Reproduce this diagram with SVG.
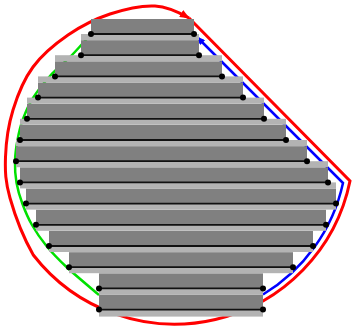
<svg xmlns="http://www.w3.org/2000/svg" width="352" height="330" viewBox="0 0 352 330">
<defs>
<style>
.dk{fill:#808080}
.lt{fill:#b3b3b3}
.ln{stroke:#111;stroke-width:1.8}
.dt{fill:#000}
.c{fill:none;stroke-linejoin:miter}
</style>
<marker id="ar" viewBox="0 0 10 8" refX="9" refY="4" markerWidth="10" markerHeight="8" markerUnits="userSpaceOnUse" orient="auto">
<path d="M0,0 L10,4 L0,8 z" fill="#ff0000"/>
</marker>
<marker id="ab" viewBox="0 0 10 8" refX="9" refY="4" markerWidth="9" markerHeight="7" markerUnits="userSpaceOnUse" orient="auto">
<path d="M0,0 L10,4 L0,8 z" fill="#0000ff"/>
</marker>
</defs>
<rect width="352" height="330" fill="#fff"/>
<g id="connectors">
<path class="c" stroke="#ff0000" stroke-width="3" marker-end="url(#ar)" d="M189,18 L350,181 A179 179 0 0 1 33.3,255 C23.8,238.3 14.6,214.3 10,198 C5.4,181.7 5,171.7 5.5,157 C6,142.3 8.4,125 13,110 C17.6,95 23.8,79.5 33,67 C42.2,54.5 55.2,43.8 68,35 C80.8,26.2 95.5,18.8 110,14 C124.5,9.2 141.8,5.3 155,6 C168.2,6.7 179,12.3 189,18"/>
<path class="c" stroke="#00e000" stroke-width="2.5" d="M91,34 C87.8,37.5 78.8,48 72,55 C65.2,62 56.5,68.8 50,76 C43.5,83.2 37.5,90.8 33,98 C28.5,105.2 25.6,112 23,119 C20.4,126 18.8,133 17.5,140 C16.2,147 15.2,153.9 15,161 C14.8,168.1 15.25,175.5 16.5,182.7 C17.75,189.9 19.9,197 22.5,204 C25.1,211 28,218 32,225 C36,232 40.75,239 46.5,246 C52.25,253 57.75,258.8 66.5,267 C75.25,275.2 93.6,290.3 99,295"/>
<path class="c" stroke="#0000ff" stroke-width="2.5" marker-end="url(#ab)" d="M263,294.5 A173 173 0 0 0 343,183 L197,37"/>
</g>
<g id="row1"><rect class="dk" x="91" y="19" width="103" height="15"/><rect class="lt" x="81" y="34" width="118" height="6"/><line class="ln" x1="91" y1="34" x2="194" y2="34"/><circle class="dt" cx="91" cy="34" r="3"/><circle class="dt" cx="194" cy="34" r="3"/></g>
<g id="row2"><rect class="dk" x="81" y="40.2" width="118" height="15"/><rect class="lt" x="55" y="55.2" width="167" height="6"/><line class="ln" x1="81" y1="55.2" x2="199" y2="55.2"/><circle class="dt" cx="81" cy="55.2" r="3"/><circle class="dt" cx="199" cy="55.2" r="3"/></g>
<g id="row3"><rect class="dk" x="55" y="61.4" width="167" height="15"/><rect class="lt" x="38" y="76.4" width="205" height="6"/><line class="ln" x1="55" y1="76.4" x2="222" y2="76.4"/><circle class="dt" cx="55" cy="76.4" r="3"/><circle class="dt" cx="222" cy="76.4" r="3"/></g>
<g id="row4"><rect class="dk" x="38" y="82.6" width="205" height="15"/><rect class="lt" x="27" y="97.6" width="237" height="6"/><line class="ln" x1="38" y1="97.6" x2="243" y2="97.6"/><circle class="dt" cx="38" cy="97.6" r="3"/><circle class="dt" cx="243" cy="97.6" r="3"/></g>
<g id="row5"><rect class="dk" x="27" y="103.8" width="237" height="15"/><rect class="lt" x="20" y="118.8" width="266" height="6"/><line class="ln" x1="27" y1="118.8" x2="264" y2="118.8"/><circle class="dt" cx="27" cy="118.8" r="3"/><circle class="dt" cx="264" cy="118.8" r="3"/></g>
<g id="row6"><rect class="dk" x="20" y="125" width="266" height="15"/><rect class="lt" x="16" y="140" width="291" height="6"/><line class="ln" x1="20" y1="140" x2="286" y2="140"/><circle class="dt" cx="20" cy="140" r="3"/><circle class="dt" cx="286" cy="140" r="3"/></g>
<g id="row7"><rect class="dk" x="16" y="146.2" width="291" height="15"/><rect class="lt" x="16" y="161.2" width="312" height="6"/><line class="ln" x1="16" y1="161.2" x2="307" y2="161.2"/><circle class="dt" cx="16" cy="161.2" r="3"/><circle class="dt" cx="307" cy="161.2" r="3"/></g>
<g id="row8"><rect class="dk" x="20" y="167.4" width="308" height="15"/><rect class="lt" x="20" y="182.4" width="316" height="6"/><line class="ln" x1="20" y1="182.4" x2="328" y2="182.4"/><circle class="dt" cx="20" cy="182.4" r="3"/><circle class="dt" cx="328" cy="182.4" r="3"/></g>
<g id="row9"><rect class="dk" x="26" y="188.6" width="310" height="15"/><rect class="lt" x="26" y="203.6" width="310" height="6"/><line class="ln" x1="26" y1="203.6" x2="336" y2="203.6"/><circle class="dt" cx="26" cy="203.6" r="3"/><circle class="dt" cx="336" cy="203.6" r="3"/></g>
<g id="row10"><rect class="dk" x="36" y="209.8" width="290" height="15"/><rect class="lt" x="36" y="224.8" width="290" height="6"/><line class="ln" x1="36" y1="224.8" x2="326" y2="224.8"/><circle class="dt" cx="36" cy="224.8" r="3"/><circle class="dt" cx="326" cy="224.8" r="3"/></g>
<g id="row11"><rect class="dk" x="49" y="231" width="264" height="15"/><rect class="lt" x="49" y="246" width="264" height="6"/><line class="ln" x1="49" y1="246" x2="313" y2="246"/><circle class="dt" cx="49" cy="246" r="3"/><circle class="dt" cx="313" cy="246" r="3"/></g>
<g id="row12"><rect class="dk" x="69" y="252.2" width="224" height="15"/><rect class="lt" x="69" y="267.2" width="224" height="6"/><line class="ln" x1="69" y1="267.2" x2="293" y2="267.2"/><circle class="dt" cx="69" cy="267.2" r="3"/><circle class="dt" cx="293" cy="267.2" r="3"/></g>
<g id="row13"><rect class="dk" x="99" y="273.4" width="164" height="15"/><rect class="lt" x="99" y="288.4" width="164" height="6"/><line class="ln" x1="99" y1="288.4" x2="263" y2="288.4"/><circle class="dt" cx="99" cy="288.4" r="3"/><circle class="dt" cx="263" cy="288.4" r="3"/></g>
<g id="row14"><rect class="dk" x="99" y="294.6" width="164" height="15"/><rect class="lt" x="99" y="309.6" width="164" height="7"/><line class="ln" x1="99" y1="309.6" x2="263" y2="309.6"/><circle class="dt" cx="99" cy="309.6" r="3"/><circle class="dt" cx="263" cy="309.6" r="3"/></g>
</svg>
